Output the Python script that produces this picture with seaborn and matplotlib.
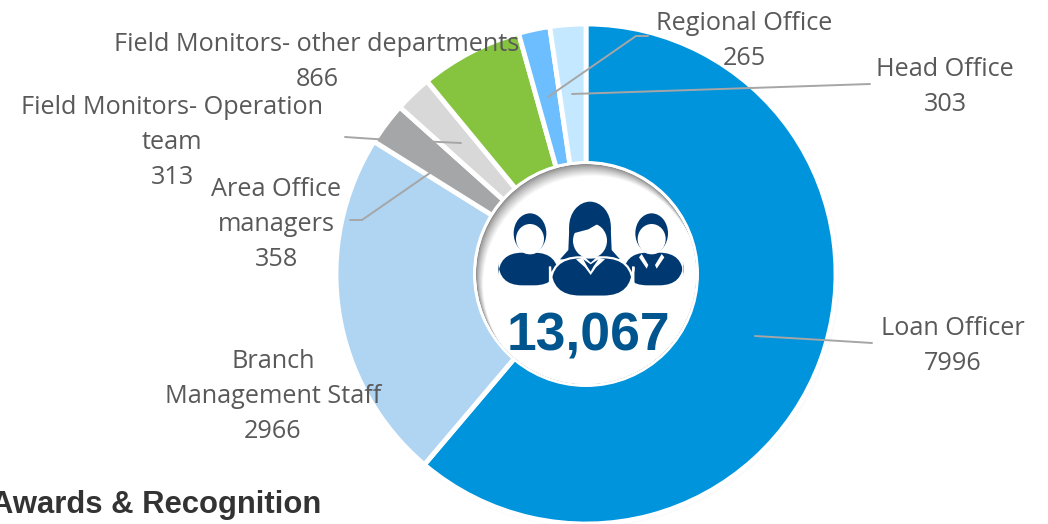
import matplotlib
matplotlib.use("Agg")
import matplotlib.pyplot as plt
from matplotlib.patches import Circle, Ellipse, PathPatch, FancyBboxPatch
from matplotlib.path import Path
import seaborn as sns

categories = ["Loan Officer", "Branch\nManagement Staff", "Area Office\nmanagers",
              "Field Monitors- Operation\nteam", "Field Monitors- other departments",
              "Regional Office", "Head Office"]
values = [7996, 2966, 358, 313, 866, 265, 303]
colors = ["#0094DC", "#B0D5F2", "#A5A6A8", "#D8D8D8", "#86C440", "#6DBEFF", "#C3E8FF"]
total_label = "13,067"
footer = "Awards & Recognition"

sns.set_theme(style="white")
plt.rcParams["font.family"] = ["Open Sans", "DejaVu Sans"]

W, H = 1048, 524
fig = plt.figure(figsize=(W / 100, H / 100), dpi=100)
ax = fig.add_axes([0, 0, 1, 1])
Y = lambda y: H - y
cx, cy, R, r = 586, Y(274), 250, 113

# soft outer shadow
for i in range(4, 0, -1):
    ax.add_patch(Circle((cx + 1, cy - 1), R + i - 1, fc="#000000", alpha=0.012, ec="none", zorder=0))

ax.pie(values, colors=colors, startangle=90, counterclock=False, center=(cx, cy), radius=R,
       wedgeprops=dict(edgecolor="white", linewidth=3.5, zorder=1))
ax.set_xlim(0, W)
ax.set_ylim(0, H)
ax.set_aspect("equal")
ax.axis("off")

# centre disc with inner shadow
ax.add_patch(Circle((cx, cy), r, fc="white", ec="none", zorder=3))
clip = Circle((cx, cy), r - 3, transform=ax.transData)
n = 14
for i in range(n):
    t = i / (n - 1)
    g = 0.55 + 0.45 * t ** 0.8
    c = Circle((cx + 0.45 * i, cy - 0.8 * i), r - 3 - 0.1 * i, fc=(g, g, g), ec="none", zorder=3.1 + i * 0.01)
    ax.add_patch(c)
    c.set_clip_path(clip)

# people icon, traced in crop coordinates
ICON = "#003972"
P = lambda x, y: (470 + x / 3, Y(170 + y / 3))
S = 1 / 3


def shape(points, fc=ICON, z=4.0):
    codes = [Path.MOVETO] + [Path.LINETO] * (len(points) - 2) + [Path.CLOSEPOLY]
    ax.add_patch(PathPatch(Path([P(*p) for p in points], codes), fc=fc, ec="none", zorder=z))


def ell(x, y, w, h, fc=ICON, z=4.0):
    ax.add_patch(Ellipse(P(x, y), w * S, h * S, fc=fc, ec="none", zorder=z))


def body(x0, x1, top, bot, rnd, z=4.0, ec="none", lw=0):
    ax.add_patch(FancyBboxPatch(P(x0, bot), (x1 - x0) * S, (bot - top) * S,
                                boxstyle=f"round,pad=0,rounding_size={rnd}",
                                fc=ICON, ec=ec, lw=lw, zorder=z))


for mx, bx0, bx1 in [(180, 85, 265), (545, 460, 640)]:
    body(bx0, bx1, 248, 346, 24)
    ell(mx, 190, 104, 126, fc="white", z=4.005)
    ell(mx, 190, 98, 120, z=4.01)
    ell(mx, 207, 84, 90, fc="white", z=4.02)
# right man's collar and tie
shape([(515, 252), (535, 285), (530, 296), (507, 262), (515, 252)], fc="white", z=4.03)
shape([(575, 252), (555, 285), (560, 296), (583, 262), (575, 252)], fc="white", z=4.03)
shape([(532, 262), (553, 262), (547, 272), (550, 300), (535, 300), (538, 272), (532, 262)], z=4.04)
# woman
shape([(298, 170), (295, 240), (270, 268), (450, 268), (425, 240), (422, 170), (298, 170)], z=4.1)
ell(360, 170, 125, 150, z=4.11)
body(240, 490, 262, 380, 30, z=4.12, ec="white", lw=1.6)
ell(360, 212, 102, 106, fc="white", z=4.13)
shape([(310, 190), (355, 178), (395, 155), (410, 180), (412, 150), (360, 120), (308, 150), (310, 190)], z=4.14)
shape([(318, 268), (345, 262), (362, 278), (380, 262), (405, 268), (378, 292), (362, 315), (345, 292), (318, 268)],
      fc="white", z=4.15)
shape([(340, 268), (362, 283), (385, 268), (370, 290), (362, 305), (352, 290), (340, 268)], z=4.16)

ax.text(588, Y(331), total_label, ha="center", va="center_baseline", fontsize=38.5, fontweight="bold",
        family="Liberation Sans", color="#00558F", zorder=5)

# leader lines
LINE = "#A6A6A6"
leaders = [
    [(548, 97), (636, 36), (648, 36)],
    [(572, 94), (870, 84)],
    [(755, 336), (840, 341), (872, 343)],
    [(440, 166), (362, 220), (350, 220)],
    [(461, 143), (375, 139), (345, 137)],
]
for pts in leaders:
    ax.plot([p[0] for p in pts], [Y(p[1]) for p in pts], color=LINE, lw=1.4, zorder=2)

# labels: centre x, centre y of the block in pixels
label_pos = [(953, 346), (273, 396.5), (276, 224.5), (172, 142.5), (317, 62), (744, 41), (945, 87)]
for cat, val, (x, y) in zip(categories, values, label_pos):
    ax.text(x, Y(y), f"{cat}\n{val}", ha="center", va="center", fontsize=18.2, color="#595959",
            linespacing=1.53, zorder=6)

ax.text(-9, Y(505), footer, ha="left", va="center", fontsize=22.3, fontweight="bold",
        family="Liberation Sans", color="#333333", zorder=6)

fig.savefig("out.png", dpi=100)
